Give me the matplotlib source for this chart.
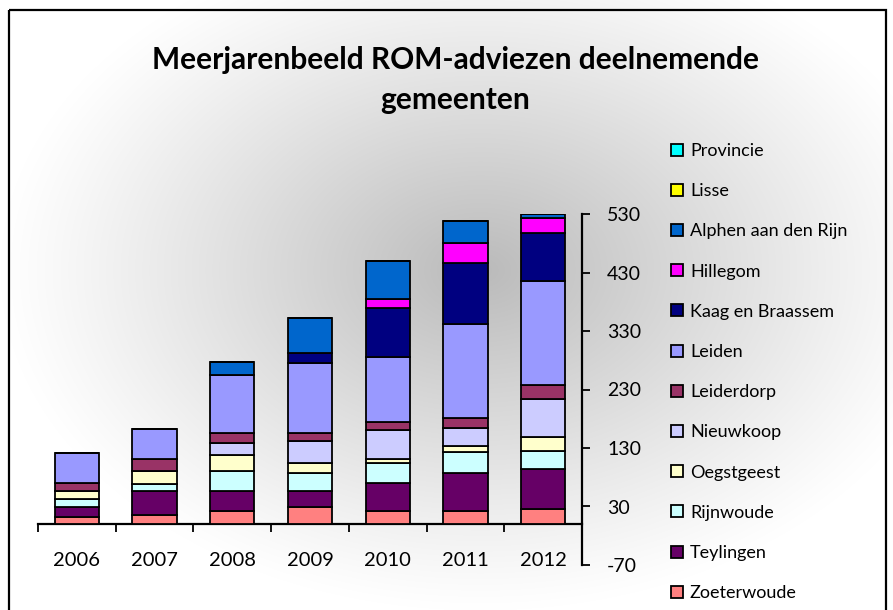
import numpy as np
import matplotlib
matplotlib.use("Agg")
import matplotlib.pyplot as plt
from matplotlib.patches import Rectangle, Patch

years = ["2006", "2007", "2008", "2009", "2010", "2011", "2012"]
series_names = ["Zoeterwoude", "Teylingen", "Rijnwoude", "Oegstgeest", "Nieuwkoop",
                "Leiderdorp", "Leiden", "Kaag en Braassem", "Hillegom",
                "Alphen aan den Rijn", "Lisse", "Provincie"]
zoeterwoude = [12, 15, 22, 29, 23, 23, 26]
teylingen = [17, 42, 35, 28, 48, 65, 68]
rijnwoude = [13, 12, 34, 31, 34, 35, 31]
oegstgeest = [14, 21, 27, 17, 7, 10, 24]
nieuwkoop = [0, 0, 20, 37, 48, 31, 65]
leiderdorp = [14, 22, 18, 14, 14, 18, 24]
leiden = [51, 51, 99, 120, 112, 160, 177]
kaag = [0, 0, 0, 17, 83, 104, 83]
hillegom = [0, 0, 0, 0, 16, 34, 26]
alphen = [0, 0, 22, 59, 65, 38, 6]
lisse = [0, 0, 0, 0, 0, 0, 0]
provincie = [0, 0, 0, 0, 0, 0, 0]
yticks = [-70, 30, 130, 230, 330, 430, 530]

series = [zoeterwoude, teylingen, rijnwoude, oegstgeest, nieuwkoop, leiderdorp,
          leiden, kaag, hillegom, alphen, lisse, provincie]
colors = ["#FF8080", "#660066", "#CCFFFF", "#FFFFCC", "#CCCCFF", "#993366",
          "#9999FF", "#000080", "#FF00FF", "#0066CC", "#FFFF00", "#00FFFF"]

W, H = 893, 610
fig = plt.figure(figsize=(W / 100, H / 100), dpi=100)

# background radial gradient
bg = fig.add_axes([0, 0, 1, 1])
xx, yy = np.meshgrid(np.arange(W), np.arange(H))
r = np.sqrt(((xx - 480) / 480.0) ** 2 + ((yy - 270) / 340.0) ** 2)
d = np.clip(1 - r, 0, 1)
shade = 1 - 0.27 * d ** 1.1
img = np.dstack([shade, shade, shade])
bg.imshow(img, extent=[0, W, H, 0], aspect="auto")
bg.set_xlim(0, W)
bg.set_ylim(H, 0)
bg.axis("off")
bg.add_patch(Rectangle((8.5, 10), 877, 620, fill=False, edgecolor="black", lw=1.6))

ax = fig.add_axes([38 / W, 1 - 565 / H, (582 - 38) / W, (565 - 214) / H])
ax.patch.set_alpha(0)
x = np.arange(len(years))
bottom = np.zeros(len(years))
for vals, name, c in zip(series, series_names, colors):
    v = np.array(vals, dtype=float)
    ax.bar(x, v, 0.57, bottom=bottom, color=c, edgecolor="black", linewidth=1.3,
           label=name, zorder=3)
    bottom += v

ax.set_xlim(-0.5, 6.5)
ax.set_ylim(-70, 530)
for s in ["left", "top"]:
    ax.spines[s].set_visible(False)
ax.spines["bottom"].set_position(("data", 0))
ax.spines["bottom"].set_linewidth(1.6)
ax.spines["right"].set_linewidth(1.6)
ax.yaxis.tick_right()
ax.set_yticks(yticks)
ax.set_yticklabels([str(t) for t in yticks], fontsize=14, family="Lato")
ax.tick_params(axis="y", direction="out", length=6, width=1.3, pad=12)
ax.set_xticks(x)
ax.set_xticklabels(years, fontsize=14.5, family="Lato")
ax.set_xticks(np.arange(-0.5, 6.6, 1.0), minor=True)
ax.tick_params(axis="x", which="major", length=0, pad=20)
ax.tick_params(axis="x", which="minor", length=6, width=1.3, direction="out")

fig.text(0.51, 1 - 80 / H, "Meerjarenbeeld ROM-adviezen deelnemende\ngemeenten",
         ha="center", va="center", fontsize=21.5, fontweight="bold", family="Lato",
         linespacing=1.5)

handles = [Patch(facecolor=c, edgecolor="black", linewidth=1.3) for c in colors]
leg = fig.legend(handles[::-1], series_names[::-1], loc="upper left",
                 bbox_to_anchor=(671 / W, 1 - 143 / H), frameon=False,
                 prop={"family": "Lato", "size": 13}, handlelength=0.65,
                 handleheight=0.65, handletextpad=0.4, labelspacing=1.34,
                 borderaxespad=0, borderpad=0)

fig.savefig("out.png", dpi=100)
